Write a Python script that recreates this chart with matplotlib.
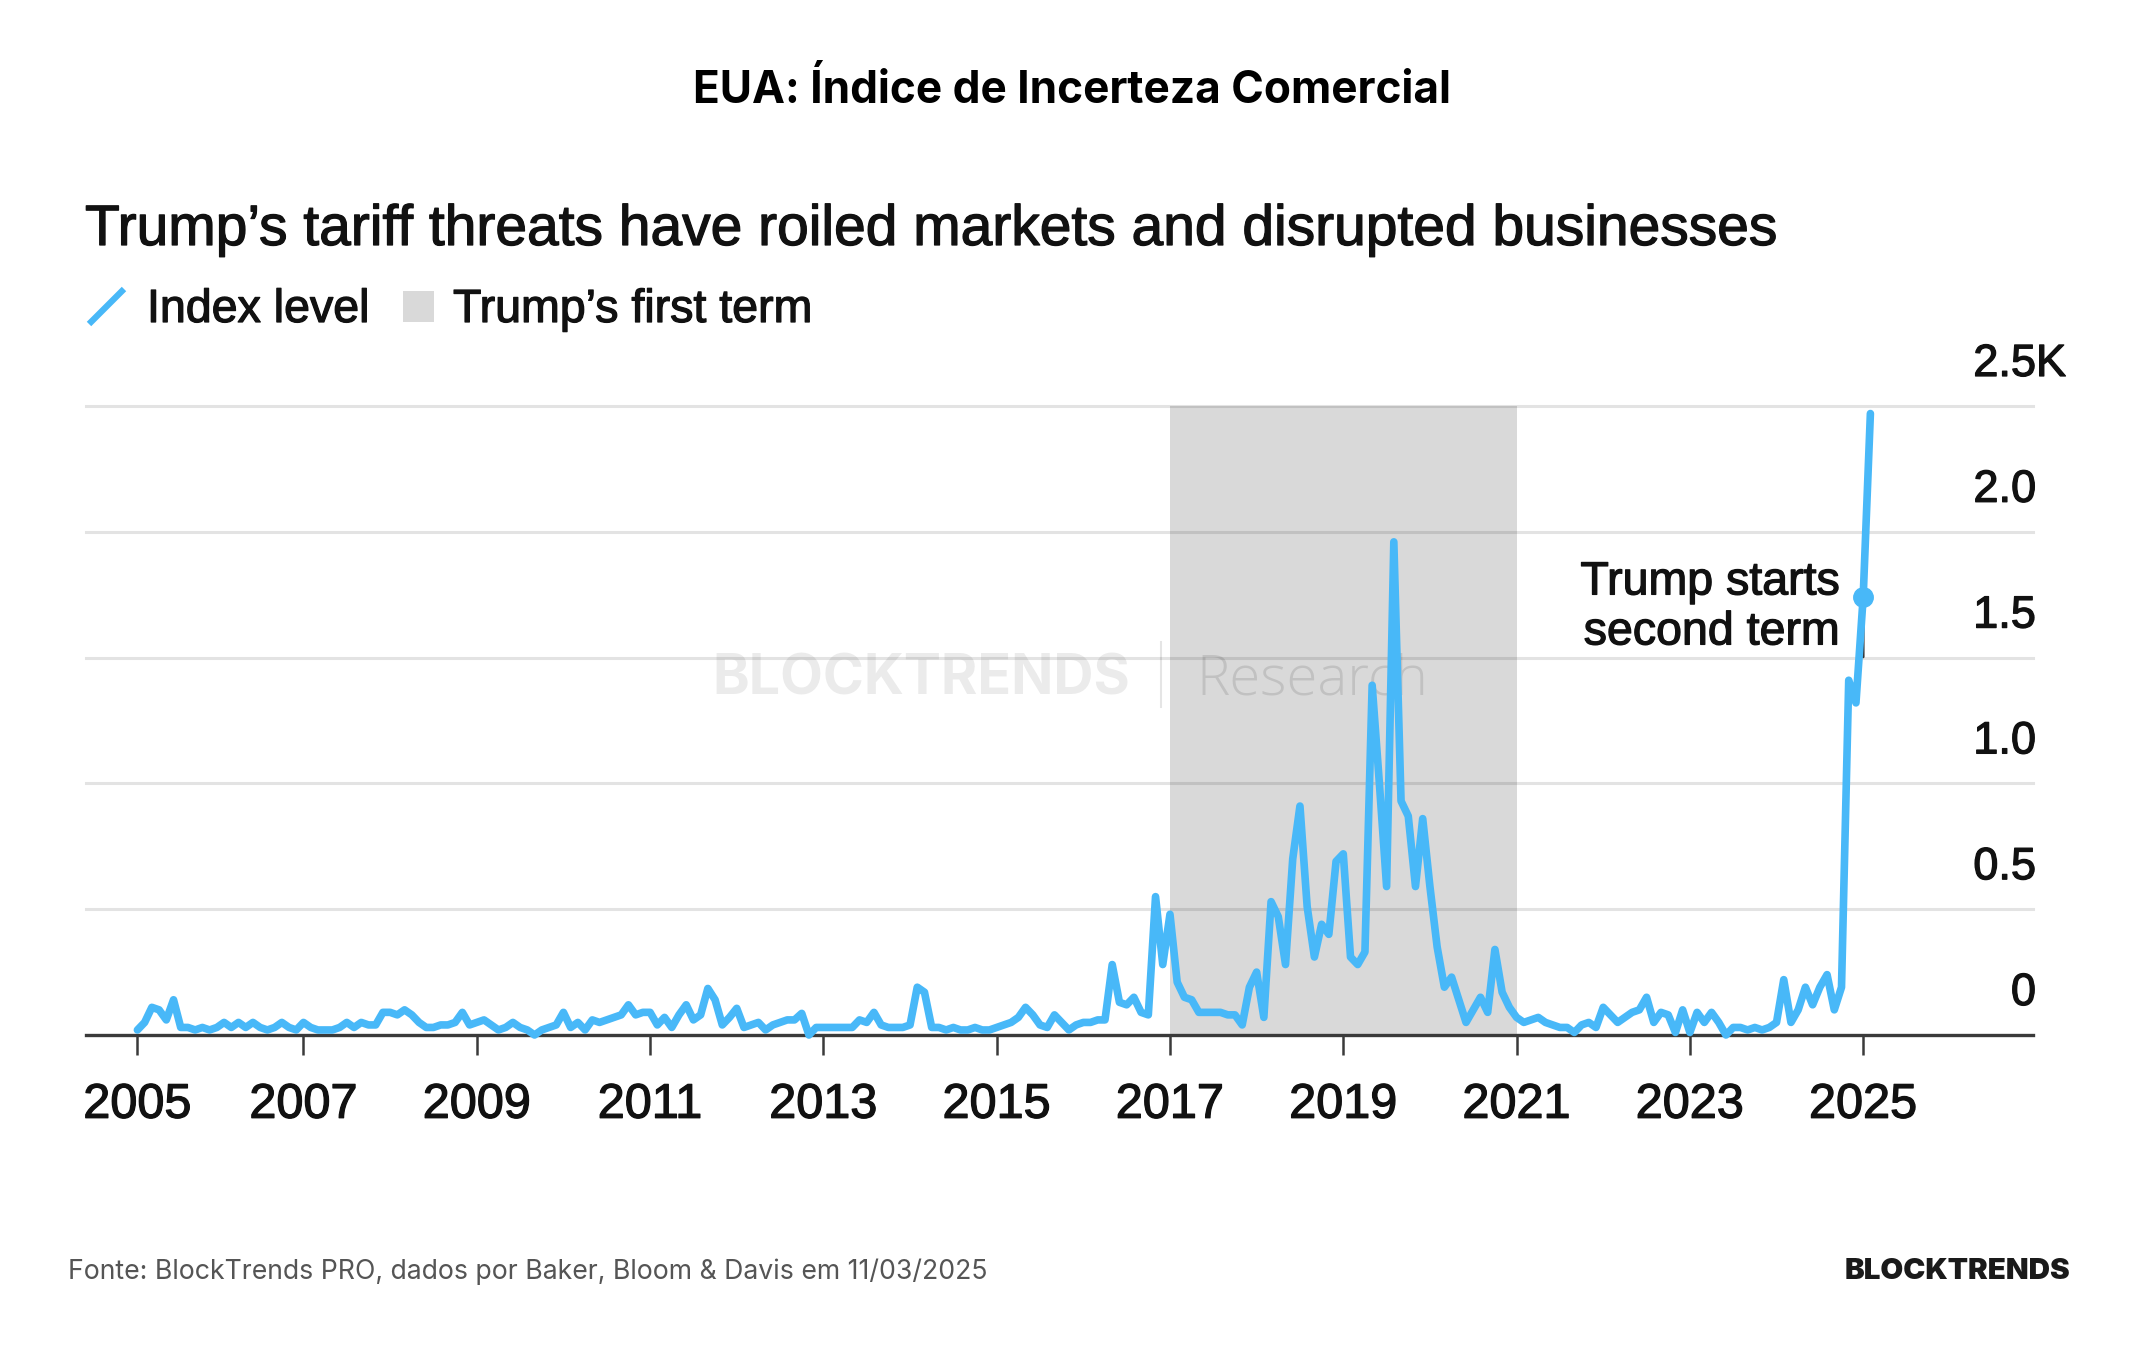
import numpy as np
import matplotlib
matplotlib.use("Agg")
import matplotlib.pyplot as plt
import matplotlib.transforms as mtransforms
import matplotlib.patheffects as pe
from matplotlib.lines import Line2D
from matplotlib.patches import Rectangle

# ---------------- data: trade policy uncertainty index (thousands), monthly ----------------
first_year, first_month = 2005, 2          # series starts Feb 2005
idx_2005 = [0.02, 0.05, 0.11, 0.10, 0.06, 0.14, 0.03, 0.03, 0.02, 0.03, 0.02]
idx_2006 = [0.03, 0.05, 0.03, 0.05, 0.03, 0.05, 0.03, 0.02, 0.03, 0.05, 0.03, 0.02]
idx_2007 = [0.05, 0.03, 0.02, 0.02, 0.02, 0.03, 0.05, 0.03, 0.05, 0.04, 0.04, 0.09]
idx_2008 = [0.09, 0.08, 0.10, 0.08, 0.05, 0.03, 0.03, 0.04, 0.04, 0.05, 0.09, 0.04]
idx_2009 = [0.05, 0.06, 0.04, 0.02, 0.03, 0.05, 0.03, 0.02, 0.00, 0.02, 0.03, 0.04]
idx_2010 = [0.09, 0.03, 0.05, 0.02, 0.06, 0.05, 0.06, 0.07, 0.08, 0.12, 0.08, 0.09]
idx_2011 = [0.09, 0.04, 0.07, 0.03, 0.08, 0.12, 0.06, 0.08, 0.185, 0.14, 0.04, 0.07]
idx_2012 = [0.106, 0.03, 0.04, 0.05, 0.02, 0.04, 0.05, 0.06, 0.06, 0.086, 0.00, 0.03]
idx_2013 = [0.03, 0.03, 0.03, 0.03, 0.03, 0.06, 0.05, 0.09, 0.04, 0.03, 0.03, 0.03]
idx_2014 = [0.04, 0.19, 0.17, 0.03, 0.03, 0.02, 0.03, 0.02, 0.02, 0.03, 0.02, 0.02]
idx_2015 = [0.03, 0.04, 0.05, 0.07, 0.11, 0.08, 0.04, 0.03, 0.08, 0.05, 0.02, 0.04]
idx_2016 = [0.05, 0.05, 0.06, 0.06, 0.28, 0.13, 0.12, 0.15, 0.09, 0.08, 0.55, 0.28]
idx_2017 = [0.48, 0.21, 0.15, 0.14, 0.09, 0.09, 0.09, 0.09, 0.08, 0.08, 0.04, 0.19]
idx_2018 = [0.25, 0.07, 0.53, 0.47, 0.28, 0.70, 0.91, 0.51, 0.31, 0.44, 0.40, 0.69]
idx_2019 = [0.72, 0.31, 0.28, 0.33, 1.39, 1.00, 0.59, 1.96, 0.93, 0.87, 0.59, 0.86]
idx_2020 = [0.59, 0.35, 0.19, 0.23, 0.14, 0.05, 0.10, 0.15, 0.09, 0.34, 0.17, 0.11]
idx_2021 = [0.07, 0.05, 0.06, 0.07, 0.05, 0.04, 0.03, 0.03, 0.01, 0.04, 0.05, 0.03]
idx_2022 = [0.11, 0.08, 0.05, 0.07, 0.09, 0.10, 0.15, 0.05, 0.09, 0.08, 0.01, 0.10]
idx_2023 = [0.01, 0.09, 0.05, 0.09, 0.05, 0.00, 0.03, 0.03, 0.02, 0.03, 0.02, 0.03]
idx_2024 = [0.05, 0.22, 0.05, 0.10, 0.19, 0.12, 0.19, 0.24, 0.10, 0.19, 1.41, 1.32]
idx_2025 = [1.74, 2.47]

first_term = (2017.0, 2021.0)
second_term_start = 2025.0
x_tick_years = list(range(2005, 2026, 2))
y_ticks = [0, 0.5, 1.0, 1.5, 2.0, 2.5]
y_tick_labels = ["0", "0.5", "1.0", "1.5", "2.0", "2.5"]
y_unit = "K"

title = "EUA: Índice de Incerteza Comercial"
subtitle = "Trump’s tariff threats have roiled markets and disrupted businesses"
legend_line_label = "Index level"
legend_span_label = "Trump’s first term"
annotation_lines = ["Trump starts", "second term"]
source = "Fonte: BlockTrends PRO, dados por Baker, Bloom & Davis em 11/03/2025"
brand = "BLOCKTRENDS"

# ---------------- styling ----------------
BLUE = "#48B8F8"
SHADE = "#D9D9D9"
DARK = "#3A3A3A"
TEXT = "#111111"
plt.rcParams["font.family"] = ["Liberation Sans", "DejaVu Sans"]
HEAVY = [pe.withStroke(linewidth=0.9, foreground=TEXT)]

values = np.concatenate([idx_2005, idx_2006, idx_2007, idx_2008, idx_2009, idx_2010,
                         idx_2011, idx_2012, idx_2013, idx_2014, idx_2015, idx_2016,
                         idx_2017, idx_2018, idx_2019, idx_2020, idx_2021, idx_2022,
                         idx_2023, idx_2024, idx_2025])
t = first_year + (np.arange(len(values)) + first_month - 1) / 12.0

W, H = 2144, 1350
fig = plt.figure(figsize=(W / 100, H / 100), dpi=100)
fig.patch.set_facecolor("white")

def fx(px):
    return px / W

def fy(py):
    return 1 - py / H

ax = fig.add_axes([fx(86), fy(1035), fx(2033) - fx(86), fy(406) - fy(1035)])
ax.set_xlim(2004.49, 2026.96)
ax.set_ylim(0, 2.5)
for s in ax.spines.values():
    s.set_visible(False)
ax.set_yticks([])

# shaded first term
ax.axvspan(first_term[0], first_term[1], color=SHADE, lw=0, zorder=1)

# gridlines
for yv in y_ticks[1:]:
    ax.axhline(yv, color="black", alpha=0.11, lw=2.2, zorder=2, clip_on=False)
ax.axhline(0, color=DARK, lw=2.4, zorder=3, clip_on=False)

# watermark (behind the line)
ax.text(fx(712), fy(694.6), "BLOCKTRENDS", transform=fig.transFigure, fontfamily="Inter",
        fontweight="bold", fontsize=40, color="black", alpha=0.08, va="baseline", zorder=2.5)
ax.add_line(Line2D([fx(1161), fx(1161)], [fy(642), fy(707)], transform=fig.transFigure,
                   color="black", alpha=0.1, lw=1.5, zorder=2.5))
ax.text(fx(1196), fy(694.6), "Research", transform=fig.transFigure, fontfamily="Open Sans",
        fontweight="light", fontsize=40.5, color="black", alpha=0.11, va="baseline", zorder=2.5)

# index line
ax.plot(t, values, color=BLUE, lw=5.5, zorder=4, solid_joinstyle="round",
        solid_capstyle="round", clip_on=False)

# x ticks
tick_pos = [t[0]] + x_tick_years[1:]
ax.set_xticks(tick_pos)
ax.set_xticklabels([str(y) for y in x_tick_years])
ax.tick_params(axis="x", length=14.4, width=1.8, color=DARK, pad=20, labelsize=35,
               labelcolor=TEXT)
for lab in ax.get_xticklabels():
    lab.set_path_effects(HEAVY)

# y labels (above gridlines, right side)
ytr = mtransforms.blended_transform_factory(ax.transAxes, ax.transData) + \
    mtransforms.ScaledTranslation(0, 0.30, fig.dpi_scale_trans)
for v, lab in zip(y_ticks, y_tick_labels):
    ax.text(1.0015, v, lab, transform=ytr, ha="right", va="baseline", fontsize=32.5,
            color=TEXT, clip_on=False, path_effects=HEAVY)
ax.text(1.0015, y_ticks[-1], y_unit, transform=ytr, ha="left", va="baseline", fontsize=32.5,
        color=TEXT, clip_on=False, path_effects=HEAVY)

# second-term marker and annotation
i_dot = int(np.argmin(np.abs(t - second_term_start)))
t_dot, v_dot = t[i_dot], values[i_dot]
ax.annotate("", xy=(t_dot, v_dot), xytext=(0, -43), textcoords="offset points",
            arrowprops=dict(arrowstyle="-", color="#333333", lw=2.0, shrinkA=0, shrinkB=10),
            zorder=3.5)
ax.plot([t_dot], [v_dot], "o", ms=14, color=BLUE, zorder=5, clip_on=False)
ax.annotate(annotation_lines[0], xy=(t_dot, v_dot), xytext=(-17, 2.0),
            textcoords="offset points", ha="right", va="baseline", fontsize=33.5, color=TEXT,
            path_effects=HEAVY)
ax.annotate(annotation_lines[1], xy=(t_dot, v_dot), xytext=(-17, -34.0),
            textcoords="offset points", ha="right", va="baseline", fontsize=33.5, color=TEXT,
            path_effects=HEAVY)

# titles
fig.text(0.5, fy(103), title, ha="center", va="baseline", fontfamily="Inter",
         fontweight="bold", fontsize=31.8, color="black")
fig.text(fx(85), fy(245), subtitle, ha="left", va="baseline", fontsize=41, color=TEXT,
         path_effects=HEAVY)

# legend
fig.add_artist(Line2D([fx(89), fx(124)], [fy(324), fy(289)], transform=fig.transFigure,
                      color=BLUE, lw=4.5, solid_capstyle="butt"))
fig.add_artist(Rectangle((fx(403), fy(322)), fx(434) - fx(403), fy(291) - fy(322),
                         transform=fig.transFigure, color=SHADE, lw=0))
fig.text(fx(147), fy(322), legend_line_label, ha="left", va="baseline", fontsize=33.5,
         color=TEXT, path_effects=HEAVY)
fig.text(fx(453), fy(322), legend_span_label, ha="left", va="baseline", fontsize=33.5,
         color=TEXT, path_effects=HEAVY)

# footer
fig.text(fx(68), fy(1279), source, ha="left", va="baseline", fontfamily="Inter",
         fontsize=19.2, color="#555555")
fig.text(fx(2070), fy(1279), brand, ha="right", va="baseline", fontfamily="Inter",
         fontweight="black", fontsize=21.3, color="#1A1A1A")

fig.savefig("out.png", dpi=100)
